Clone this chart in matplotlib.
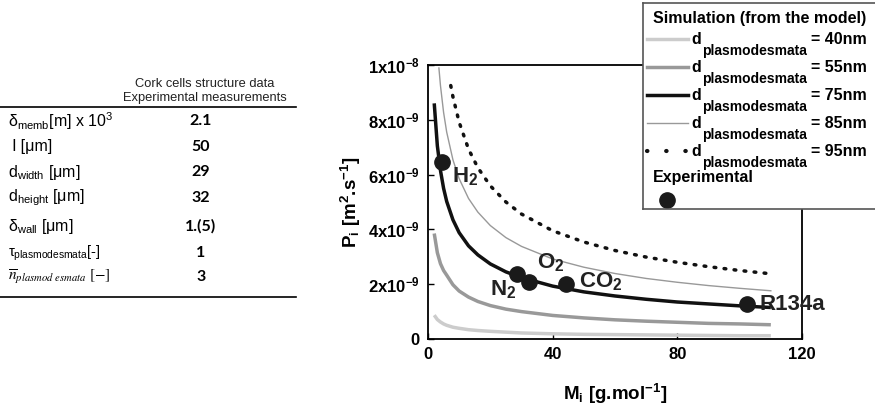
import numpy as np
import matplotlib
matplotlib.use('Agg')
from matplotlib import pyplot as plt, rcParams

rcParams['font.family'] = ['Liberation Sans', 'DejaVu Sans']
rcParams['mathtext.fontset'] = 'custom'
rcParams['mathtext.rm'] = 'Liberation Sans'
rcParams['mathtext.bf'] = 'Liberation Sans:bold'
rcParams['mathtext.it'] = 'Liberation Sans:italic'
rcParams['mathtext.default'] = 'bf'

# ---- table data ----
table_labels = [r'δ$_{\mathrm{memb}}$[m] x 10$^{\mathrm{3}}$', r' l [μm]', r'd$_{\mathrm{width}}$ [μm]',
                r'd$_{\mathrm{height}}$ [μm]', r'δ$_{\mathrm{wall}}$ [μm]', r'τ$_{\mathrm{plasmodesmata}}$[-]',
                r'$\overline{\mathit{n}}_{\mathit{plasmod\ esmata}}\ \mathrm{[-]}$']
table_values = ['2.1', '50', '29', '32', '1.(5)', '1', '3']

# ---- model curves ----
M_grid = [2, 3, 4, 5, 6, 8, 10, 13, 16, 20, 25, 30, 40, 50, 60, 70, 80, 90, 100, 110]
P_40 = [0.87, 0.71, 0.62, 0.55, 0.50, 0.43, 0.39, 0.34, 0.31, 0.28, 0.25, 0.22, 0.19, 0.17, 0.16, 0.15, 0.14, 0.13, 0.12, 0.12]
P_55 = [3.85, 3.15, 2.75, 2.5, 2.33, 1.98, 1.75, 1.53, 1.37, 1.22, 1.09, 1.00, 0.86, 0.77, 0.70, 0.65, 0.61, 0.57, 0.55, 0.52]
P_75 = [8.60, 7.05, 6.15, 5.50, 5.02, 4.35, 3.88, 3.40, 3.07, 2.74, 2.45, 2.24, 1.93, 1.72, 1.57, 1.45, 1.35, 1.28, 1.21, 1.15]
M_85 = [3.5, 4, 5, 6, 8, 10, 13, 16, 20, 25, 30, 40, 50, 60, 70, 80, 90, 100, 110]
P_85 = [9.89, 9.25, 8.27, 7.55, 6.54, 5.85, 5.13, 4.63, 4.14, 3.70, 3.38, 2.92, 2.62, 2.39, 2.21, 2.07, 1.95, 1.85, 1.76]
M_95 = [7.3, 8, 10, 13, 16, 20, 25, 30, 40, 50, 60, 70, 80, 90, 100, 110]
P_95 = [9.25, 8.84, 7.91, 6.93, 6.25, 5.59, 5.00, 4.56, 3.95, 3.54, 3.23, 2.99, 2.80, 2.64, 2.50, 2.38]

# ---- experimental points ----
gases = ['H$_2$', 'N$_2$', 'O$_2$', 'CO$_2$', 'R134a']
M_exp = [4.4, 28.4, 32.3, 44.2, 102.3]
P_exp = [6.45, 2.39, 2.08, 2.0, 1.28]
label_pos = [(7.7, 5.71), (19.8, 1.6), (34.9, 2.58), (48.6, 1.89), (106.3, 1.05)]

fig = plt.figure(figsize=(8.75, 4.12), dpi=100)

def fx(x): return x / 875
def fy(y): return 1 - y / 412

# table
fig.text(fx(205), fy(84), 'Cork cells structure data', ha='center', va='center', fontsize=9.3, color='#222222')
fig.text(fx(205), fy(98), 'Experimental measurements', ha='center', va='center', fontsize=9.3, color='#222222')
fig.add_artist(plt.Line2D([fx(0), fx(296)], [fy(107), fy(107)], color='black', lw=1.2))
fig.add_artist(plt.Line2D([fx(0), fx(296)], [fy(297), fy(297)], color='black', lw=1.2))
row_y = [121, 147, 172, 198, 226, 253, 277]
for lab, val, y in zip(table_labels, table_values, row_y):
    if 'overline' in lab:
        fig.text(fx(8), fy(y), lab, ha='left', va='center', fontsize=11, math_fontfamily='stix')
    else:
        fig.text(fx(8), fy(y), lab, ha='left', va='center', fontsize=11.5 if 'τ' not in lab else 10.5)
    fig.text(fx(201), fy(y), val, ha='center', va='center', fontsize=11.5, fontweight='bold', family='Lato')

# main plot
ax = fig.add_axes([428 / 875, 1 - 339 / 412, 374 / 875, 274 / 412])
sc = 1e-9
ax.plot(M_grid, np.array(P_40) * sc, color='#cccccc', lw=2.5, solid_capstyle='butt')
ax.plot(M_grid, np.array(P_55) * sc, color='#999999', lw=2.5, solid_capstyle='butt')
ax.plot(M_grid, np.array(P_75) * sc, color='#111111', lw=2.5, solid_capstyle='butt')
ax.plot(M_85, np.array(P_85) * sc, color='#999999', lw=1.0)
ax.plot(M_95, np.array(P_95) * sc, color='#111111', lw=2.5, linestyle=(0, (0.5, 2.4)), dash_capstyle='round')
ax.plot(M_exp, np.array(P_exp) * sc, 'o', color='#1a1a1a', markersize=11, zorder=5)
for g, (lx, ly) in zip(gases, label_pos):
    ax.text(lx, ly * sc, g, fontsize=16, fontweight='bold', ha='left', va='baseline', color='#222222')

ax.set_xlim(0, 120)
ax.set_ylim(0, 1e-8)
ax.set_xticks([0, 40, 80, 120])
ax.set_xticklabels(['0', '40', '80', '120'], fontsize=12, fontweight='bold')
ax.set_yticks([0, 2e-9, 4e-9, 6e-9, 8e-9, 1e-8])
ax.set_yticklabels(['0', '2x10$^{-9}$', '4x10$^{-9}$', '6x10$^{-9}$', '8x10$^{-9}$', '1x10$^{-8}$'],
                   fontsize=12, fontweight='bold')
ax.tick_params(direction='in', length=4, width=1, pad=6)
for s in ax.spines.values():
    s.set_linewidth(1.3)
ax.set_xlabel('M$_i$ [g.mol$^{-1}$]', fontsize=13.5, fontweight='bold', labelpad=14)
ax.set_ylabel('P$_i$ [m$^2$.s$^{-1}$]', fontsize=13.5, fontweight='bold', labelpad=3)

# legend box
lg = fig.add_axes([643 / 875, 1 - 209 / 412, 240 / 875, 206 / 412])
lg.set_xlim(643, 883)
lg.set_ylim(209, 3)
lg.set_xticks([])
lg.set_yticks([])
for s in lg.spines.values():
    s.set_color('#555555')
    s.set_linewidth(1.2)
lg.text(653, 23, 'Simulation (from the model)', fontsize=11.5, fontweight='bold', va='baseline')
leg_names = ['40', '55', '75', '85', '95']
leg_style = [dict(color='#cccccc', lw=2.5), dict(color='#999999', lw=2.5), dict(color='#111111', lw=2.5),
             dict(color='#999999', lw=1.0), dict(color='#111111', lw=3, linestyle=(0, (0.1, 4.5)), dash_capstyle='round')]
for i, (nm, st) in enumerate(zip(leg_names, leg_style)):
    y = 39 + 28 * i
    lg.plot([647, 688], [y, y], **st)
    lg.text(691, y + 5, 'd', fontsize=11.5, fontweight='bold', va='baseline')
    lg.text(702, y + 16, 'plasmodesmata', fontsize=10, fontweight='bold', va='baseline')
    lg.text(811, y + 5, '= ' + nm + 'nm', fontsize=11.5, fontweight='bold', va='baseline')
lg.text(653, 182, 'Experimental', fontsize=11.5, fontweight='bold', va='baseline')
lg.plot([667], [200], 'o', color='#1a1a1a', markersize=11)

plt.savefig('out.png', dpi=100)
